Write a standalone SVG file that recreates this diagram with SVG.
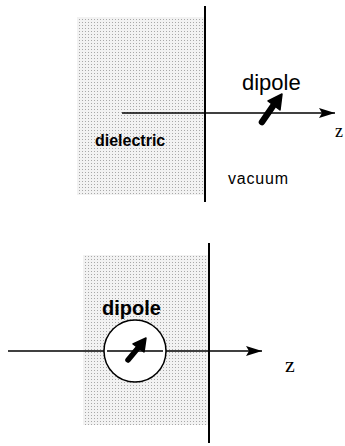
<svg xmlns="http://www.w3.org/2000/svg" width="345" height="446" viewBox="0 0 345 446">
  <defs>
    <pattern id="stipple" width="3" height="3" patternUnits="userSpaceOnUse">
      <rect width="3" height="3" fill="#f2f2f2"/>
      <rect x="1" y="1" width="1" height="1" fill="#a8a8a8"/>
    </pattern>
    <marker id="arr" viewBox="0 0 16 10" refX="16" refY="5" markerWidth="16" markerHeight="10" markerUnits="userSpaceOnUse" orient="auto">
      <path d="M0,0 L16,5 L0,10 L3,5 Z" fill="#000"/>
    </marker>
  </defs>
  <style>
    .shade { fill: url(#stipple); }
    .wall { stroke: #000; stroke-width: 2; fill: none; }
    .axis { stroke: #000; stroke-width: 1.5; fill: none; marker-end: url(#arr); }
    .sans { font-family: "Liberation Sans", Arial, sans-serif; fill: #000; }
    .serif { font-family: "Liberation Serif", "Times New Roman", serif; fill: #000; }
    .dip { fill: #000; stroke: #000; }
  </style>

  <!-- Top panel -->
  <g id="top-dielectric">
    <rect class="shade" x="77" y="17" width="128" height="178"/>
    <text class="sans" x="95" y="146" font-size="16" font-weight="bold">dielectric</text>
  </g>
  <g id="top-vacuum">
    <text class="sans" x="228" y="184" font-size="16" letter-spacing="0.8">vacuum</text>
  </g>
  <g id="top-dipole">
    <line class="dip" x1="262" y1="122" x2="273" y2="106" stroke-width="6.5" stroke-linecap="round"/>
    <polygon class="dip" points="282,94 280,110 268,101" stroke-width="1.5" stroke-linejoin="round"/>
    <text class="sans" x="242" y="90" font-size="22">dipole</text>
  </g>
  <g id="top-z">
    <text class="serif" x="335" y="137" font-size="18">z</text>
  </g>

  <!-- Bottom panel -->
  <g id="bottom-dielectric">
    <rect class="shade" x="83" y="255" width="126" height="170"/>
  </g>
  <g id="bottom-z">
    <text class="serif" x="285" y="372" font-size="22">z</text>
  </g>

  <g id="connectors">
    <line class="wall" x1="205" y1="6" x2="205" y2="202"/>
    <line class="axis" x1="122" y1="113" x2="335" y2="113"/>
    <line class="wall" x1="209" y1="243" x2="209" y2="443"/>
    <line class="axis" x1="8" y1="351" x2="262" y2="351"/>
  </g>

  <g id="bottom-dipole">
    <circle cx="135" cy="351" r="31" fill="#fff" stroke="#000" stroke-width="1.5"/>
    <line x1="107" y1="351" x2="163" y2="351" stroke="#000" stroke-width="1.5"/>
    <line class="dip" x1="128" y1="360" x2="138" y2="348" stroke-width="5.5" stroke-linecap="round"/>
    <polygon class="dip" points="146,338 144,352 133,344" stroke-width="1.5" stroke-linejoin="round"/>
    <text class="sans" x="102" y="315" font-size="20" font-weight="bold">dipole</text>
  </g>
</svg>
